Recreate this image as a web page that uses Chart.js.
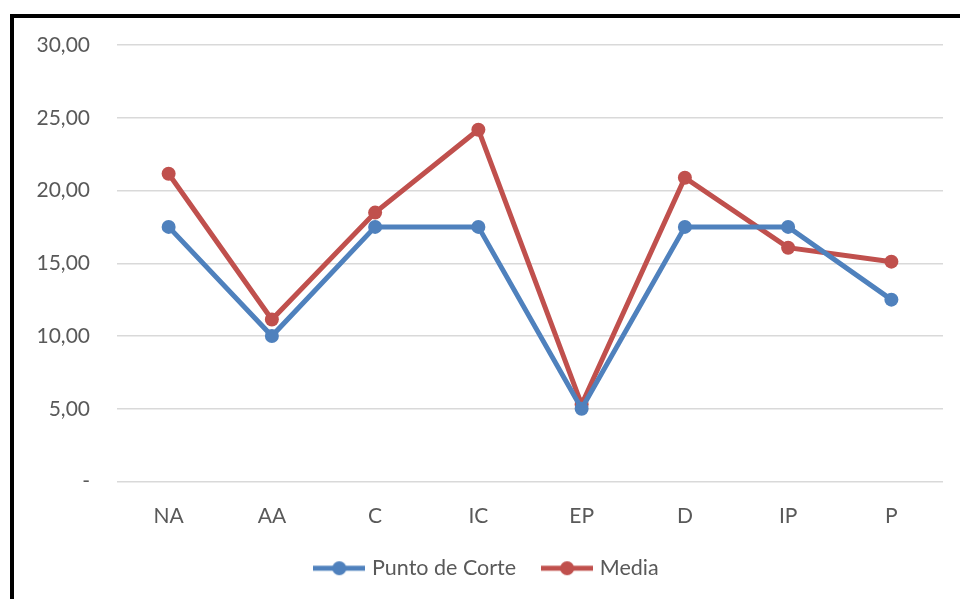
<!DOCTYPE html>
<html>
<head>
<meta charset="utf-8">
<script src="https://cdn.jsdelivr.net/npm/chart.js@4"></script>
<style>
  html, body { margin: 0; padding: 0; background: #fff; overflow: hidden; }
  #wrap { position: relative; width: 960px; height: 599px; }
  #frame { position: absolute; left: 10px; top: 14px; width: 1000px; height: 700px; border: 4px solid #000; box-sizing: border-box; }
  canvas { position: absolute; left: 0; top: 0; }
</style>
</head>
<body>
<div id="wrap">
  <div id="frame"></div>
  <canvas id="chart" width="960" height="599"></canvas>
</div>
<script>
const categories = ["NA", "AA", "C", "IC", "EP", "D", "IP", "P"];
const puntoDeCorte = [17.5, 10, 17.5, 17.5, 5, 17.5, 17.5, 12.5];
const media = [21.15, 11.13, 18.48, 24.18, 5.29, 20.88, 16.07, 15.11];
const yTicks = [0, 5, 10, 15, 20, 25, 30];

const blue = "#4F81BD";
const red = "#C0504D";

// legend marker: line with a dot in the middle
function legendMarker(color) {
  const c = document.createElement("canvas");
  c.width = 52; c.height = 16;
  const g = c.getContext("2d");
  g.strokeStyle = color; g.lineWidth = 5;
  g.beginPath(); g.moveTo(0, 8); g.lineTo(52, 8); g.stroke();
  g.fillStyle = color;
  g.beginPath(); g.arc(26, 8, 7, 0, Math.PI * 2); g.fill();
  return c;
}

const fmt = v => v === 0 ? "-" : v.toFixed(2).replace(".", ",");

new Chart(document.getElementById("chart"), {
  type: "line",
  data: {
    labels: categories,
    datasets: [
      { label: "Punto de Corte", data: puntoDeCorte, borderColor: blue, backgroundColor: blue,
        borderWidth: 5, pointRadius: 7, pointHoverRadius: 7, pointBorderWidth: 0, tension: 0 },
      { label: "Media", data: media, borderColor: red, backgroundColor: red,
        borderWidth: 5, pointRadius: 7, pointHoverRadius: 7, pointBorderWidth: 0, tension: 0 }
    ]
  },
  options: {
    responsive: false,
    animation: false,
    layout: { padding: { top: 45, right: 17, left: 33, bottom: 10 } },
    scales: {
      x: {
        offset: true,
        afterFit: s => { s.height = 47; },
        grid: { display: false, drawTicks: false },
        border: { display: false },
        ticks: { color: "#595959", font: { family: "Lato", size: 21 }, padding: 22 }
      },
      y: {
        min: 0, max: 30,
        afterBuildTicks: s => { s.ticks = yTicks.map(v => ({ value: v })); },
        afterFit: s => { s.width = 84; },
        grid: { color: "#D9D9D9", lineWidth: 1.5, drawTicks: false },
        border: { display: false },
        ticks: { color: "#595959", font: { family: "Lato", size: 21 }, padding: 27, callback: v => fmt(v) }
      }
    },
    plugins: {
      legend: {
        position: "bottom",
        labels: {
          usePointStyle: true,
          pointStyleWidth: 44,
          boxHeight: 16,
          padding: 29,
          color: "#595959",
          font: { family: "Lato", size: 21.5 },
          generateLabels: chart => chart.data.datasets.map((d, i) => ({
            text: d.label,
            pointStyle: legendMarker(d.borderColor),
            fillStyle: d.borderColor,
            strokeStyle: d.borderColor,
            lineWidth: 0,
            fontColor: "#595959",
            datasetIndex: i
          }))
        }
      },
      tooltip: { enabled: false }
    }
  }
});
</script>
</body>
</html>
